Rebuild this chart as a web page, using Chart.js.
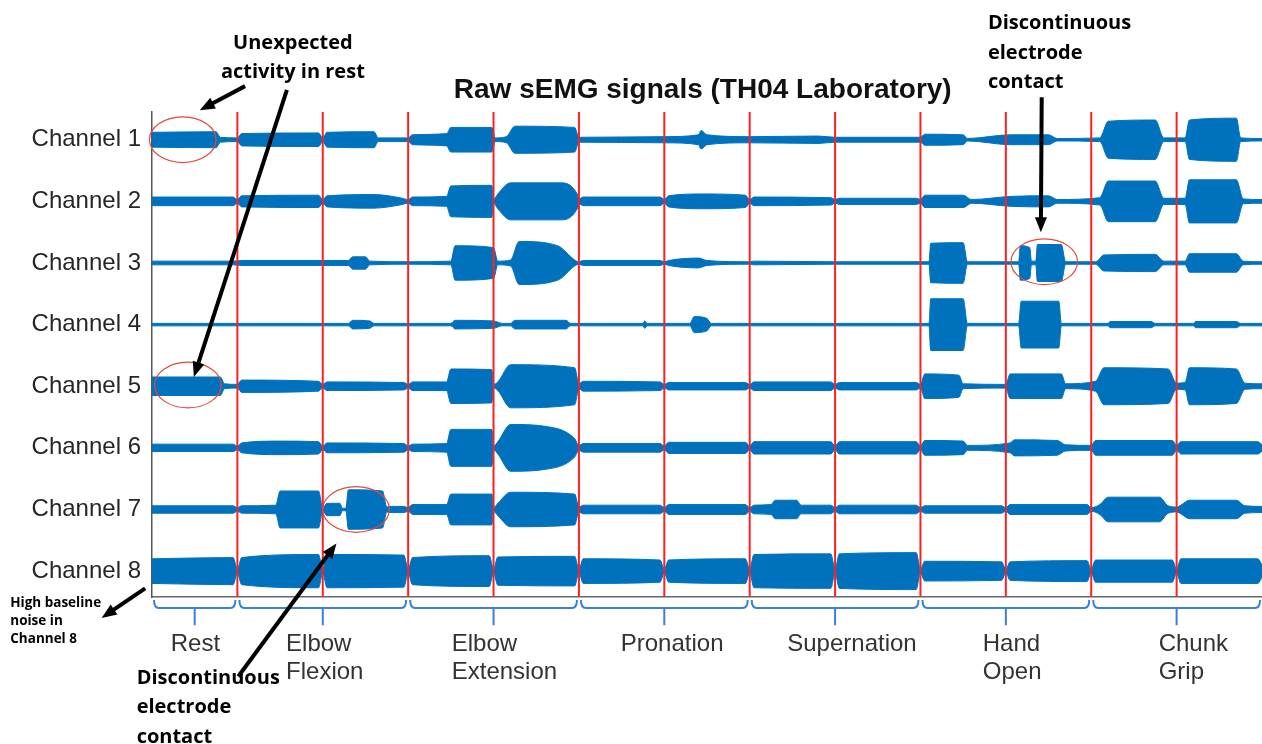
<!DOCTYPE html>
<html>
<head>
<meta charset="utf-8">
<title>Raw sEMG signals</title>
<script src="https://cdn.jsdelivr.net/npm/chart.js@4.4.1/dist/chart.umd.min.js"></script>
<style>
  html, body { margin: 0; padding: 0; background: #fff; }
  canvas { display: block; }
</style>
</head>
<body>
<canvas id="semgChart" width="1262" height="744"></canvas>
<script>
// Time axis is in "half-movement" units: 0-1 rest, then two windows per movement
const channelNames = ['Channel 1', 'Channel 2', 'Channel 3', 'Channel 4', 'Channel 5', 'Channel 6', 'Channel 7', 'Channel 8'];
const channelOffsets = [7, 6, 5, 4, 3, 2, 1, 0];

// envelope of each raw signal, [time, amplitude] pairs
const ch1Envelope = [[0,0.12],[0.75,0.13],[0.8,0.04],[1.0,0.03],[1.05,0.1],[1.95,0.11],[2.0,0.03],[2.05,0.12],[2.6,0.13],[2.65,0.03],[3.0,0.03],[3.05,0.08],[3.45,0.1],[3.5,0.2],[3.98,0.2],[4.02,0.03],[4.15,0.05],[4.25,0.22],[4.95,0.2],[5.0,0.04],[6.0,0.05],[6.4,0.08],[6.43,0.15],[6.5,0.08],[7.0,0.05],[7.8,0.06],[8.0,0.04],[9.0,0.04],[9.05,0.09],[9.5,0.08],[9.55,0.02],[10.05,0.08],[10.5,0.08],[10.6,0.02],[11.1,0.03],[11.2,0.3],[11.75,0.32],[11.85,0.03],[12.1,0.03],[12.15,0.32],[12.7,0.35],[12.75,0.03],[13,0.02]];
const ch2Envelope = [[0,0.07],[0.95,0.07],[1.0,0.03],[1.05,0.09],[1.95,0.1],[2.0,0.03],[2.05,0.09],[2.6,0.11],[2.9,0.06],[3.0,0.03],[3.05,0.07],[3.45,0.08],[3.5,0.25],[3.98,0.26],[4.0,0.03],[4.05,0.12],[4.2,0.3],[4.8,0.3],[4.98,0.12],[5.0,0.04],[5.05,0.07],[5.95,0.07],[6.0,0.03],[6.05,0.09],[6.45,0.12],[6.95,0.1],[7.0,0.03],[7.05,0.07],[7.95,0.06],[8.0,0.03],[8.05,0.05],[8.95,0.05],[9.0,0.03],[9.05,0.1],[9.5,0.1],[9.6,0.03],[10.05,0.08],[10.5,0.09],[10.6,0.03],[11.1,0.06],[11.2,0.33],[11.75,0.33],[11.85,0.05],[12.1,0.05],[12.15,0.35],[12.7,0.35],[12.78,0.04],[13,0.03]];
const ch3Envelope = [[0,0.03],[0.95,0.03],[1.05,0.04],[1.95,0.04],[2.05,0.04],[2.3,0.04],[2.35,0.1],[2.5,0.1],[2.55,0.03],[3.0,0.02],[3.5,0.03],[3.55,0.28],[4.0,0.25],[4.05,0.03],[4.2,0.05],[4.3,0.35],[4.75,0.28],[4.95,0.05],[5.0,0.02],[5.05,0.04],[5.95,0.04],[6.0,0.02],[6.05,0.04],[6.4,0.08],[6.5,0.04],[7.0,0.02],[7.05,0.03],[8.0,0.02],[9.0,0.02],[9.1,0.02],[9.12,0.32],[9.5,0.33],[9.55,0.02],[10.15,0.02],[10.17,0.28],[10.28,0.25],[10.3,0.03],[10.35,0.03],[10.37,0.3],[10.65,0.3],[10.7,0.02],[11.05,0.02],[11.15,0.13],[11.75,0.14],[11.85,0.03],[12.1,0.03],[12.15,0.15],[12.7,0.15],[12.78,0.03],[13,0.02]];
const ch4Envelope = [[0,0.02],[2.3,0.02],[2.35,0.07],[2.55,0.06],[2.6,0.02],[3.5,0.02],[3.55,0.07],[4.0,0.06],[4.1,0.02],[4.2,0.02],[4.25,0.07],[4.85,0.07],[4.9,0.02],[5.75,0.02],[5.77,0.06],[5.8,0.02],[6.3,0.02],[6.35,0.13],[6.5,0.1],[6.55,0.02],[9.1,0.02],[9.12,0.42],[9.5,0.42],[9.55,0.02],[10.15,0.02],[10.18,0.38],[10.62,0.38],[10.65,0.02],[11.2,0.02],[11.22,0.05],[11.7,0.05],[11.75,0.02],[12.2,0.02],[12.22,0.05],[12.7,0.05],[12.75,0.02],[13,0.02]];
const ch5Envelope = [[0,0.15],[0.8,0.15],[0.85,0.04],[1.0,0.03],[1.05,0.1],[1.95,0.08],[2.0,0.03],[2.05,0.07],[2.95,0.06],[3.0,0.03],[3.05,0.07],[3.45,0.07],[3.5,0.28],[3.98,0.27],[4.0,0.03],[4.05,0.07],[4.2,0.35],[4.95,0.3],[5.0,0.04],[5.05,0.08],[5.95,0.07],[6.0,0.03],[6.05,0.06],[6.95,0.06],[7.0,0.03],[7.05,0.07],[7.95,0.07],[8.0,0.03],[8.05,0.06],[8.95,0.06],[9.0,0.03],[9.05,0.2],[9.45,0.18],[9.5,0.04],[10.0,0.03],[10.05,0.2],[10.65,0.2],[10.7,0.04],[11.05,0.08],[11.15,0.3],[11.9,0.28],[12.0,0.05],[12.1,0.06],[12.15,0.3],[12.7,0.28],[12.8,0.05],[13,0.04]];
const ch6Envelope = [[0,0.06],[0.95,0.06],[1.0,0.03],[1.05,0.08],[1.5,0.11],[1.95,0.1],[2.0,0.03],[2.05,0.08],[2.95,0.07],[3.0,0.03],[3.05,0.06],[3.45,0.07],[3.5,0.3],[3.98,0.3],[4.0,0.03],[4.05,0.1],[4.2,0.38],[4.6,0.35],[4.95,0.15],[5.0,0.04],[5.05,0.07],[5.95,0.07],[6.0,0.03],[6.05,0.09],[6.95,0.09],[7.0,0.03],[7.05,0.1],[7.95,0.1],[8.0,0.03],[8.05,0.1],[8.95,0.1],[9.0,0.03],[9.05,0.12],[9.5,0.11],[9.55,0.04],[10.05,0.08],[10.1,0.13],[10.6,0.12],[10.7,0.05],[11.0,0.04],[11.05,0.12],[11.95,0.12],[12.0,0.04],[12.05,0.1],[12.95,0.1],[13,0.05]];
const ch7Envelope = [[0,0.06],[0.95,0.06],[1.0,0.03],[1.05,0.06],[1.45,0.07],[1.5,0.3],[1.95,0.3],[2.0,0.03],[2.05,0.1],[2.2,0.1],[2.23,0.02],[2.27,0.02],[2.3,0.32],[2.7,0.3],[2.75,0.04],[2.8,0.05],[2.95,0.05],[3.0,0.03],[3.05,0.08],[3.45,0.08],[3.5,0.25],[3.98,0.25],[4.0,0.03],[4.05,0.1],[4.2,0.28],[4.95,0.25],[5.0,0.04],[5.05,0.07],[5.95,0.07],[6.0,0.03],[6.05,0.08],[6.95,0.08],[7.0,0.03],[7.05,0.07],[7.25,0.08],[7.3,0.15],[7.55,0.15],[7.6,0.07],[7.95,0.07],[8.0,0.03],[8.05,0.07],[8.95,0.07],[9.0,0.03],[9.05,0.06],[9.95,0.06],[10.0,0.03],[10.05,0.08],[10.95,0.08],[11.0,0.03],[11.1,0.08],[11.2,0.2],[11.8,0.2],[11.9,0.06],[12.0,0.04],[12.05,0.07],[12.15,0.15],[12.7,0.15],[12.8,0.06],[13,0.05]];
const ch8Envelope = [[0,0.2],[0.95,0.22],[1.0,0.03],[1.05,0.22],[1.95,0.27],[2.0,0.03],[2.05,0.27],[2.95,0.26],[3.0,0.03],[3.05,0.22],[3.95,0.25],[4.0,0.03],[4.05,0.23],[4.95,0.24],[5.0,0.03],[5.05,0.2],[5.95,0.18],[6.0,0.03],[6.05,0.18],[6.95,0.2],[7.0,0.03],[7.05,0.27],[7.95,0.28],[8.0,0.03],[8.05,0.28],[8.95,0.3],[9.0,0.03],[9.05,0.16],[9.95,0.15],[10.0,0.03],[10.05,0.15],[10.95,0.17],[11.0,0.03],[11.05,0.18],[11.95,0.18],[12.0,0.03],[12.05,0.2],[12.95,0.2],[13,0.1]];
const envelopes = [ch1Envelope, ch2Envelope, ch3Envelope, ch4Envelope, ch5Envelope, ch6Envelope, ch7Envelope, ch8Envelope];

// red markers between recording windows
const boundaryTimes = [1, 2, 3, 4, 5, 6, 7, 8, 9, 10, 11, 12];

// movements under the time axis
const activityLabels = [['Rest'], ['Elbow', 'Flexion'], ['Elbow', 'Extension'], ['Pronation'], ['Supernation'], ['Hand', 'Open'], ['Chunk', 'Grip']];
const activitySpans = [[0, 1], [1, 3], [3, 5], [5, 7], [7, 9], [9, 11], [11, 13]];
const activityLabelAt = [0.22, 1.57, 3.51, 5.49, 7.44, 9.73, 11.79];

// notes written on the figure (time, channel-level coordinates)
const notes = [
    { lines: ['Unexpected', 'activity in rest'], t: 1.65, v: [8.56, 8.09], align: 'center', size: 20 },
    { lines: ['Discontinuous', 'electrode', 'contact'], t: 9.79, v: [8.89, 8.41, 7.93], align: 'left', size: 20 },
    { lines: ['High baseline', 'noise in', 'Channel 8'], t: -1.66, v: [-0.52, -0.81, -1.11], align: 'left', size: 13.5 },
    { lines: ['Discontinuous', 'electrode', 'contact'], t: -0.18, v: [-1.74, -2.21, -2.70], align: 'left', size: 20 }
];
const arrows = [
    [[1.09, 7.87], [0.56, 7.48]],
    [[1.58, 7.81], [0.49, 3.15]],
    [[10.42, 7.69], [10.41, 5.5]],
    [[-0.08, -0.28], [-0.59, -0.76]],
    [[1.01, -1.71], [2.16, 0.45]]
];
const circles = [[0.36, 7.0], [0.42, 3.02], [2.39, 1.0], [10.45, 5.02]];

const yMin = -0.42, yMax = 7.45;
const signalColor = '#0072BD';

const datasets = [];

boundaryTimes.forEach(t => {
    datasets.push({
        data: [{ x: t, y: yMin }, { x: t, y: yMax }],
        borderColor: '#ff2020',
        borderWidth: 2,
        pointRadius: 0,
        fill: false,
        order: 0
    });
});

// each channel: upper edge, then lower edge filled back to the upper one
envelopes.forEach((env, i) => {
    const base = channelOffsets[i];
    datasets.push({
        label: channelNames[i],
        data: env.map(p => ({ x: p[0], y: base + p[1] })),
        borderColor: signalColor,
        borderWidth: 1,
        pointRadius: 0,
        cubicInterpolationMode: 'monotone',
        fill: false,
        order: 1
    });
    datasets.push({
        data: env.map(p => ({ x: p[0], y: base - p[1] })),
        borderColor: signalColor,
        backgroundColor: signalColor,
        borderWidth: 1,
        pointRadius: 0,
        cubicInterpolationMode: 'monotone',
        fill: '-1',
        order: 1
    });
});

function drawArrow(ctx, x1, y1, x2, y2) {
    const ang = Math.atan2(y2 - y1, x2 - x1);
    const head = 15;
    ctx.beginPath();
    ctx.moveTo(x1, y1);
    ctx.lineTo(x2 - Math.cos(ang) * head * 0.8, y2 - Math.sin(ang) * head * 0.8);
    ctx.stroke();
    ctx.beginPath();
    ctx.moveTo(x2, y2);
    ctx.lineTo(x2 - head * Math.cos(ang) + 6 * Math.sin(ang), y2 - head * Math.sin(ang) - 6 * Math.cos(ang));
    ctx.lineTo(x2 - head * Math.cos(ang) - 6 * Math.sin(ang), y2 - head * Math.sin(ang) + 6 * Math.cos(ang));
    ctx.closePath();
    ctx.fill();
}

// brackets, movement names, title and the hand-drawn notes
const figureNotes = {
    id: 'figureNotes',
    afterDraw(chart) {
        const ctx = chart.ctx;
        const xs = chart.scales.x, ys = chart.scales.y;
        ctx.save();

        // brackets under the axis
        ctx.strokeStyle = '#3b7fd8';
        ctx.lineWidth = 2;
        const yTop = ys.getPixelForValue(-0.47);
        const yMid = ys.getPixelForValue(-0.6);
        const yTip = ys.getPixelForValue(-0.88);
        activitySpans.forEach(span => {
            const x1 = xs.getPixelForValue(span[0]) + 2;
            const x2 = xs.getPixelForValue(span[1]) - 2;
            const mid = (x1 + x2) / 2;
            ctx.beginPath();
            ctx.moveTo(x1, yTop);
            ctx.quadraticCurveTo(x1, yMid, x1 + 5, yMid);
            ctx.lineTo(x2 - 5, yMid);
            ctx.quadraticCurveTo(x2, yMid, x2, yTop);
            ctx.moveTo(mid, yMid);
            ctx.lineTo(mid, yTip);
            ctx.stroke();
        });

        // movement names
        ctx.fillStyle = '#333';
        ctx.font = '24px "Liberation Sans", Arial, sans-serif';
        ctx.textAlign = 'left';
        ctx.textBaseline = 'middle';
        activityLabels.forEach((lines, i) => {
            const x = xs.getPixelForValue(activityLabelAt[i]);
            lines.forEach((line, j) => {
                ctx.fillText(line, x, ys.getPixelForValue(j === 0 ? -1.19 : -1.64));
            });
        });

        // title
        ctx.fillStyle = '#111';
        ctx.font = 'bold 28px "Liberation Sans", Arial, sans-serif';
        ctx.textAlign = 'center';
        ctx.fillText('Raw sEMG signals (TH04 Laboratory)', xs.getPixelForValue(6.45), ys.getPixelForValue(7.8));

        // red circles
        ctx.strokeStyle = '#e8463c';
        ctx.lineWidth = 1.2;
        const rx = xs.getPixelForValue(0.39) - xs.getPixelForValue(0);
        const ry = ys.getPixelForValue(0) - ys.getPixelForValue(0.37);
        circles.forEach(c => {
            ctx.beginPath();
            ctx.ellipse(xs.getPixelForValue(c[0]), ys.getPixelForValue(c[1]), rx, ry, 0, 0, Math.PI * 2);
            ctx.stroke();
        });

        // notes
        ctx.fillStyle = '#000';
        notes.forEach(n => {
            ctx.font = 'bold ' + n.size + 'px "Open Sans", "Noto Sans", sans-serif';
            ctx.textAlign = n.align;
            n.lines.forEach((line, j) => {
                ctx.fillText(line, xs.getPixelForValue(n.t), ys.getPixelForValue(n.v[j]));
            });
        });

        // arrows
        ctx.strokeStyle = '#000';
        ctx.lineWidth = 4;
        arrows.forEach(a => {
            drawArrow(ctx,
                xs.getPixelForValue(a[0][0]), ys.getPixelForValue(a[0][1]),
                xs.getPixelForValue(a[1][0]), ys.getPixelForValue(a[1][1]));
        });

        ctx.restore();
    }
};

const ctx = document.getElementById('semgChart').getContext('2d');
new Chart(ctx, {
    type: 'line',
    data: { datasets: datasets },
    options: {
        responsive: false,
        animation: false,
        events: [],
        layout: { padding: { top: 112, bottom: 147, left: 0, right: 0 } },
        plugins: {
            legend: { display: false },
            title: { display: false },
            tooltip: { enabled: false }
        },
        scales: {
            x: {
                type: 'linear',
                min: 0,
                max: 13,
                grid: { display: false },
                ticks: { display: false },
                border: { display: true, color: '#666', width: 1.5 },
                afterFit(scale) { scale.height = 0; }
            },
            y: {
                type: 'linear',
                min: yMin,
                max: yMax,
                grid: { display: false },
                border: { display: true, color: '#555', width: 1.5, dash: [57, 4.6] },
                afterBuildTicks(scale) {
                    scale.ticks = channelOffsets.map(v => ({ value: v }));
                },
                ticks: {
                    padding: 3,
                    color: '#262626',
                    font: { family: '"Liberation Sans", Arial, sans-serif', size: 24 },
                    callback: value => channelNames[channelOffsets.indexOf(value)]
                },
                afterFit(scale) { scale.width = 152; }
            }
        }
    },
    plugins: [figureNotes]
});
</script>
</body>
</html>
